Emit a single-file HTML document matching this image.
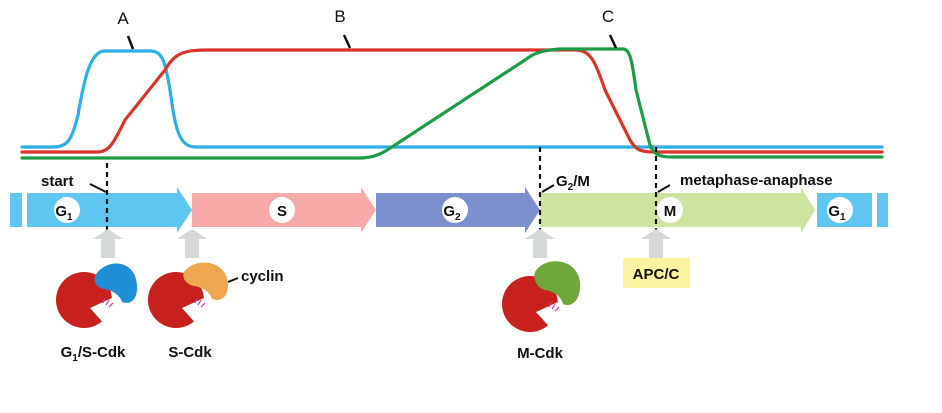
<!DOCTYPE html>
<html><head><meta charset="utf-8"><style>
body{margin:0;background:#fff;width:942px;height:408px;overflow:hidden}
text{font-family:"Liberation Sans",sans-serif}
</style></head><body>
<svg width="942" height="408" viewBox="0 0 942 408" xmlns="http://www.w3.org/2000/svg">
<g fill="none" stroke-width="3.2" stroke-linecap="round" stroke-linejoin="round">
<path d="M22 147 L52 147 C68 147 72 140 78 115 C84 80 90 52 104 51 L150 51 C162 51 165 60 170 90 C175 125 178 147 195 147 L882 147" stroke="#2eaee2"/>
<path d="M22 152 L98 152 C110 152 115 140 125 120 L165 70 C175 52 185 50 210 50 L575 50 C590 50 595 60 605 90 L630 140 C636 150 640 152 655 152 L882 152" stroke="#d9342b"/>
<path d="M22 158 L360 158 C375 158 385 152 395 145 L525 60 C535 52 545 50 560 49 L623 49 C630 49 632 60 636 90 L650 145 C654 155 660 157 672 157 L882 157" stroke="#1f9a48"/>
</g>
<g stroke="#111" stroke-width="2.5">
<line x1="128" y1="36" x2="133" y2="49"/>
<line x1="344" y1="35" x2="350" y2="48"/>
<line x1="610" y1="35" x2="616" y2="48"/>
</g>
<g font-size="17" fill="#111" text-anchor="middle">
<text x="123" y="24">A</text><text x="340" y="22">B</text><text x="608" y="22">C</text>
</g>
<rect x="10" y="193" width="12" height="34" fill="#5fc6f0"/>
<path d="M27 193 H177 V187 L192 210 L177 233 V227 H27 Z" fill="#5fc6f0"/>
<path d="M192 193 H361 V187 L376 210 L361 233 V227 H192 L192 210 Z" fill="#f7aaa8"/>
<path d="M376 193 H525 V187 L540 210 L525 233 V227 H376 Z" fill="#7b8fcd"/>
<path d="M540 193 H801 V187 L815 210 L801 233 V227 H540 Z" fill="#cfe3a1"/>
<rect x="817" y="193" width="55" height="34" fill="#5fc6f0"/>
<rect x="877" y="193" width="11" height="34" fill="#5fc6f0"/>
<g fill="#fff"><circle cx="67" cy="210" r="13"/><circle cx="282" cy="210" r="13"/><circle cx="455" cy="210" r="13"/><circle cx="670" cy="210" r="13"/><circle cx="840" cy="210" r="13"/></g>
<g font-size="15" font-weight="bold" fill="#111" text-anchor="middle">
<text x="64" y="216">G<tspan font-size="10" dy="4">1</tspan></text>
<text x="282" y="216">S</text>
<text x="452" y="216">G<tspan font-size="10" dy="4">2</tspan></text>
<text x="670" y="216">M</text>
<text x="837" y="216">G<tspan font-size="10" dy="4">1</tspan></text>
</g>
<g stroke="#111" stroke-width="2.2" stroke-dasharray="5,4">
<line x1="107" y1="163" x2="107" y2="230"/>
<line x1="540" y1="147" x2="540" y2="230"/>
<line x1="656" y1="147" x2="656" y2="230"/>
</g>
<g stroke="#111" stroke-width="2"><line x1="90" y1="184" x2="106" y2="192"/><line x1="542" y1="192" x2="554" y2="185"/><line x1="658" y1="192" x2="670" y2="185"/></g>
<g font-size="15" font-weight="bold" fill="#111">
<text x="41" y="186">start</text>
<text x="556" y="186">G<tspan font-size="10" dy="4">2</tspan><tspan dy="-4">/M</tspan></text>
<text x="680" y="185">metaphase-anaphase</text>
</g>
<g fill="#d4d9d8">
<path d="M108 229 L123 239 H115 V258 H101 V239 H93 Z"/>
<path d="M192 229 L207 239 H199 V258 H185 V239 H177 Z"/>
<path d="M540 229 L555 239 H547 V258 H533 V239 H525 Z"/>
<path d="M656 229 L671 239 H663 V258 H649 V239 H641 Z"/>
</g>
<rect x="623" y="258" width="67" height="30" fill="#fbf3a0"/>
<text x="656" y="279" font-size="15" font-weight="bold" text-anchor="middle" fill="#111">APC/C</text>
<defs>
<path id="pac" d="M18 21.4 A28 28 0 1 1 27.9 -2 L6 8 Z" fill="#c8211d"/>
</defs>
<use href="#pac" x="84" y="300"/>
<path d="M95 276 C105 258 135 258 137 285 C138 300 130 305 122 302 C120 295 112 290 104 289 C98 288 93 283 95 276 Z" fill="#1e8fd6"/>
<use href="#pac" x="176" y="300"/>
<path d="M184 272 C195 256 228 260 228 285 C228 298 220 302 212 299 C210 292 202 287 194 286 C188 285 181 279 184 272 Z" fill="#f0a850"/>
<use href="#pac" x="530" y="304"/>
<path d="M535 272 C545 255 578 258 580 283 C581 300 572 308 563 304 C561 296 553 291 545 290 C539 289 532 280 535 272 Z" fill="#6fa73c"/>
<g stroke="#c23ca0" stroke-width="1.2">
<line x1="103" y1="303" x2="105" y2="298"/><line x1="106" y1="305" x2="109" y2="300"/><line x1="109" y1="307" x2="113" y2="303"/>
<line x1="195" y1="303" x2="197" y2="298"/><line x1="198" y1="305" x2="201" y2="300"/><line x1="201" y1="307" x2="205" y2="303"/>
<line x1="549" y1="307" x2="551" y2="302"/><line x1="552" y1="309" x2="555" y2="304"/><line x1="555" y1="311" x2="559" y2="307"/>
</g>
<line x1="228" y1="282" x2="238" y2="278" stroke="#111" stroke-width="2"/>
<g font-size="15" font-weight="bold" fill="#111">
<text x="241" y="281">cyclin</text>
<text x="93" y="357" text-anchor="middle">G<tspan font-size="10" dy="4">1</tspan><tspan dy="-4">/S-Cdk</tspan></text>
<text x="190" y="357" text-anchor="middle">S-Cdk</text>
<text x="540" y="358" text-anchor="middle">M-Cdk</text>
</g>
</svg>
</body></html>
